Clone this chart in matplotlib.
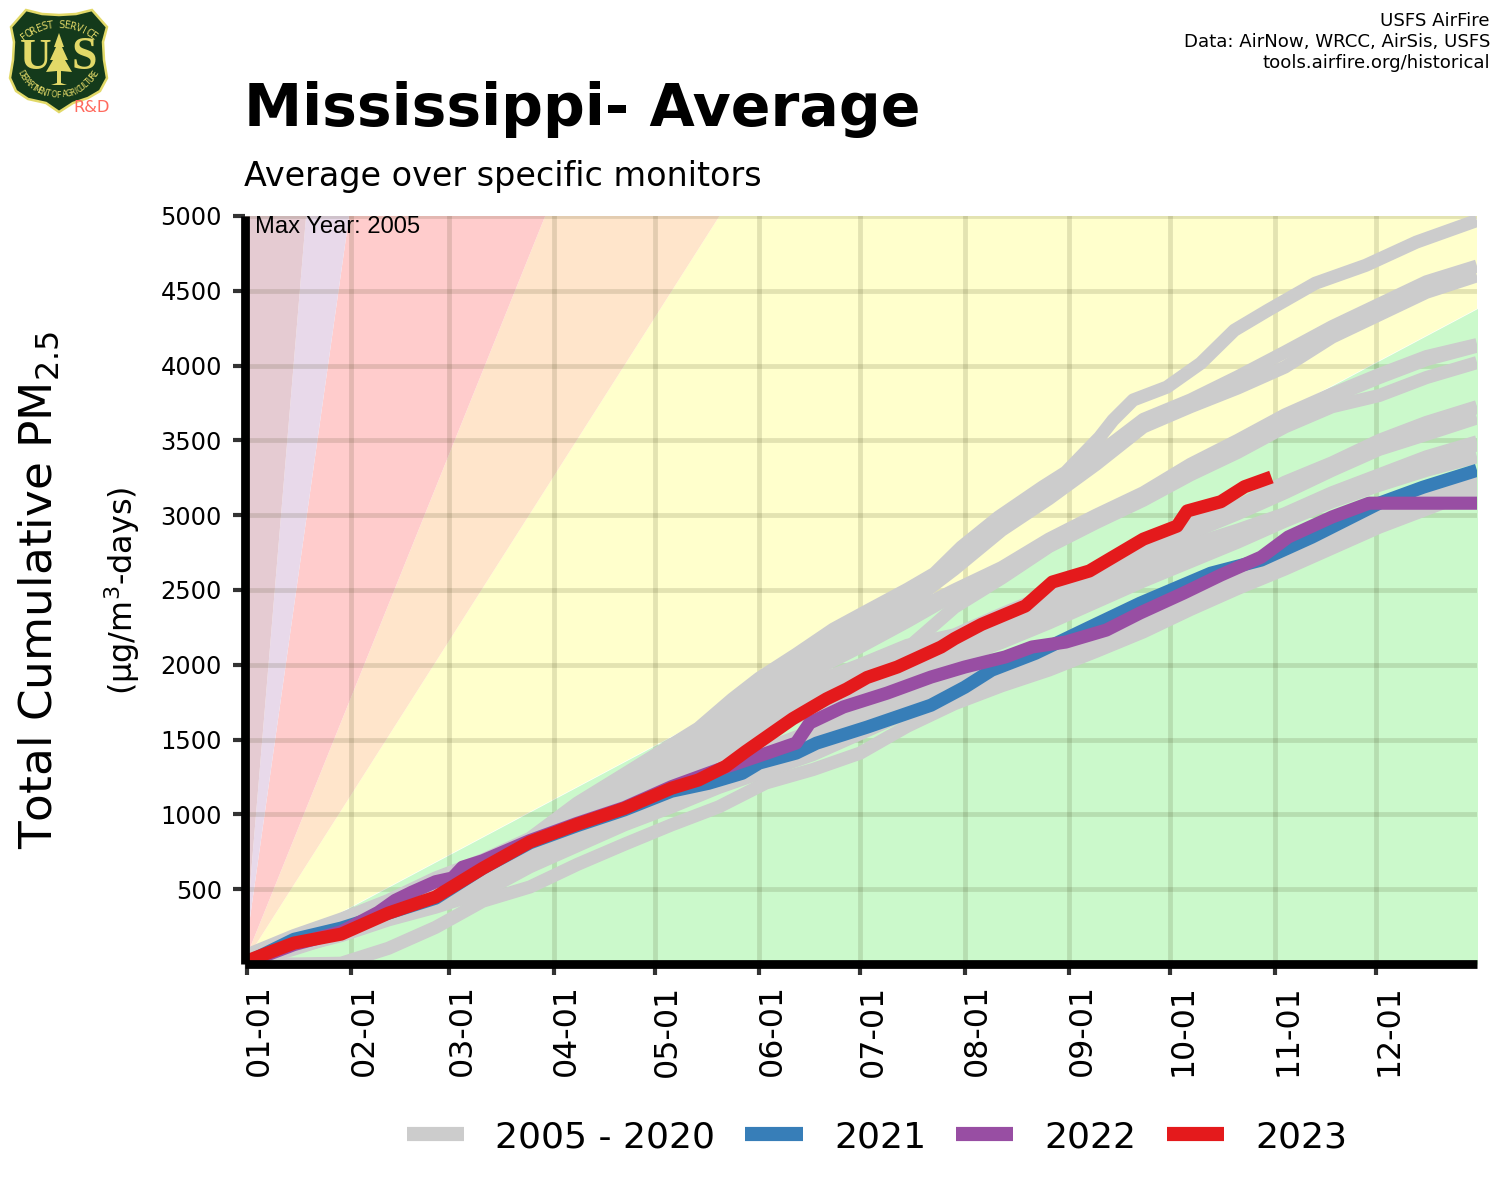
#-*- coding: utf-8 -*-
import numpy as np
import matplotlib
matplotlib.use('Agg')
import matplotlib.pyplot as plt
from matplotlib.patches import Polygon
from matplotlib.transforms import ScaledTranslation

plt.rcParams['font.family'] = ['DejaVu Sans']
plt.rcParams['mathtext.default'] = 'regular'

MONTH_DAYS = [0, 31, 60, 91, 121, 152, 182, 213, 244, 274, 305, 335]
MONTH_LABELS = ['01-01', '02-01', '03-01', '04-01', '05-01', '06-01',
                '07-01', '08-01', '09-01', '10-01', '11-01', '12-01']
Y_TICKS = [500, 1000, 1500, 2000, 2500, 3000, 3500, 4000, 4500, 5000]

# daily rate limits of the coloured wedges
BAND_RATES = [0, 12, 35.5, 56, 160, 270, 100000]
BAND_COLORS = ['#CBF9CB', '#FFFFCC', '#FFE5CB', '#FFCCCC', '#E8D9EA', '#E5CBD2']

# the top grey year has its own days, the others are read every 14 days
TOP_DAYS = [0, 14, 28, 42, 56, 70, 84, 98, 112, 134, 144, 152, 163, 174, 184, 196, 204,
            212, 223, 236, 243, 253, 257, 263, 273, 283, 293, 303, 317, 332, 347, 365]
GREY_A = [60, 190, 300, 425, 575, 695, 840, 1075, 1269, 1576, 1770, 1910, 2070, 2238, 2360, 2505, 2610,
          2787, 2987, 3187, 3287, 3520, 3635, 3770, 3856, 4015, 4236, 4370, 4550, 4670, 4825, 4970]

GREY_DAYS = [0, 14, 28, 42, 56, 70, 84, 98, 112, 126, 140, 154, 168, 182,
             196, 210, 224, 238, 252, 266, 280, 294, 308, 322, 336, 350, 365]
GREY_B = [40, 170, 280, 400, 530, 650, 810, 1020, 1220, 1420, 1620, 1880, 2100, 2290,
          2460, 2700, 2960, 3170, 3400, 3640, 3770, 3925, 4090, 4260, 4410, 4560, 4665]
GREY_C = [30, 150, 260, 380, 500, 620, 780, 980, 1180, 1370, 1570, 1820, 2040, 2230,
          2400, 2640, 2900, 3110, 3340, 3590, 3725, 3850, 3990, 4190, 4340, 4490, 4600]
GREY_D = [20, 140, 240, 350, 470, 590, 740, 920, 1100, 1290, 1480, 1720, 1960, 2120,
          2290, 2470, 2630, 2820, 2980, 3130, 3320, 3480, 3650, 3790, 3920, 4040, 4130]
GREY_E = [15, 130, 230, 340, 450, 570, 710, 890, 1060, 1240, 1430, 1650, 1840, 1960,
          2110, 2385, 2580, 2790, 2950, 3100, 3270, 3420, 3590, 3725, 3800, 3920, 4020]
GREY_F = [15, 120, 220, 320, 430, 540, 680, 860, 1020, 1190, 1370, 1570, 1760, 1860,
          1990, 2130, 2330, 2460, 2590, 2760, 2930, 3050, 3210, 3340, 3490, 3610, 3720]
GREY_G = [12, 125, 225, 335, 445, 560, 700, 870, 1040, 1210, 1400, 1590, 1780, 1930,
          2060, 2190, 2280, 2400, 2530, 2700, 2880, 3010, 3150, 3300, 3440, 3540, 3650]
GREY_H = [10, 130, 230, 345, 460, 600, 760, 930, 1080, 1240, 1420, 1600, 1740, 1850,
          1980, 2090, 2190, 2320, 2460, 2640, 2770, 2870, 2980, 3120, 3240, 3370, 3470]
GREY_I = [10, 125, 220, 335, 450, 590, 740, 900, 1050, 1210, 1390, 1560, 1700, 1810,
          1930, 2030, 2150, 2280, 2420, 2560, 2690, 2820, 2960, 3090, 3200, 3300, 3390]
GREY_J = [10, 100, 200, 320, 430, 560, 700, 840, 980, 1110, 1240, 1350, 1480, 1620,
          1760, 1880, 1950, 2060, 2190, 2340, 2470, 2590, 2730, 2880, 3010, 3110, 3230]
GREY_K = [10, 110, 210, 330, 440, 580, 720, 860, 1010, 1150, 1300, 1440, 1560, 1680,
          1800, 1900, 2010, 2120, 2250, 2380, 2510, 2630, 2760, 2900, 3030, 3130, 3250]
GREY_L = [0, 0, 5, 105, 245, 420, 515, 665, 800, 930, 1050, 1210, 1300, 1410,
          1590, 1740, 1860, 1965, 2090, 2220, 2370, 2510, 2640, 2780, 2920, 3040, 3170]
GREY_M = [5, 110, 190, 295, 380, 480, 650, 790, 930, 1050, 1180, 1290, 1400, 1540,
          1680, 1790, 1900, 2010, 2140, 2280, 2420, 2550, 2680, 2830, 2960, 3070, 3200]
GREY_N = [20, 150, 250, 360, 480, 600, 760, 950, 1130, 1320, 1510, 1700, 1880, 2000,
          2130, 2200, 2340, 2470, 2600, 2770, 2940, 3060, 3220, 3350, 3500, 3620, 3725]
GREY_O = [15, 135, 235, 350, 470, 600, 770, 950, 1120, 1290, 1470, 1650, 1820, 1960,
          2070, 2150, 2240, 2350, 2490, 2660, 2800, 2900, 3010, 3150, 3270, 3390, 3490]
GREY_P = [25, 160, 270, 390, 510, 630, 790, 1000, 1200, 1390, 1590, 1800, 2010, 2180,
          2340, 2500, 2650, 2840, 3000, 3150, 3340, 3500, 3670, 3810, 3940, 4060, 4140]
GREY_YEARS = [GREY_B, GREY_C, GREY_D, GREY_E, GREY_F, GREY_G, GREY_H,
              GREY_I, GREY_J, GREY_K, GREY_L, GREY_M, GREY_N, GREY_O, GREY_P]

BLUE_DAYS = [0, 14, 28, 42, 56, 70, 84, 98, 112, 126, 137, 147, 152, 163, 169, 184,
             203, 213, 221, 234, 250, 265, 286, 301, 316, 336, 349, 365]
BLUE_2021 = [10, 165, 240, 340, 440, 640, 810, 925, 1030, 1155, 1208, 1275, 1343, 1410, 1476, 1583,
             1730, 1850, 1964, 2077, 2250, 2411, 2612, 2700, 2853, 3080, 3187, 3300]
PURPLE_DAYS = [0, 14, 28, 31, 39, 44, 49, 56, 61, 64, 70, 84, 98, 112, 126, 140, 154, 163, 167, 177,
               190, 203, 213, 225, 233, 243, 255, 265, 278, 289, 301, 309, 322, 333, 365]
PURPLE_2022 = [10, 130, 215, 250, 345, 425, 480, 550, 575, 647, 690, 825, 940, 1045, 1185, 1300, 1407, 1477, 1611, 1718,
               1811, 1918, 1985, 2052, 2119, 2152, 2232, 2346, 2480, 2600, 2720, 2854, 2988, 3080, 3080]
RED_DAYS = [0, 14, 28, 42, 56, 70, 84, 98, 112, 126, 134, 142, 148, 162, 172, 178, 184, 193, 206, 210,
            218, 231, 239, 250, 256, 266, 276, 279, 289, 296, 304]
RED_2023 = [20, 140, 200, 340, 448, 640, 816, 934, 1040, 1175, 1230, 1320, 1420, 1640, 1772, 1838, 1915, 1985, 2119, 2175,
            2270, 2393, 2553, 2627, 2707, 2840, 2927, 3028, 3090, 3190, 3255]

GREY = '#CCCCCC'
BLUE = '#377EB8'
PURPLE = '#984EA3'
RED = '#E41A1C'


def draw_logo(fig):
    ax = fig.add_axes([0, 1 - 125 / 1200, 125 / 1500, 125 / 1200])
    ax.set_xlim(0, 125)
    ax.set_ylim(125, 0)
    ax.axis('off')
    shield = [(26, 10), (42, 14), (59, 15), (76, 14), (92, 10), (107, 27), (103, 42), (104, 60),
              (107, 78), (100, 91), (88, 98), (73, 103), (59, 112), (46, 103), (28, 99),
              (16, 91), (10, 78), (13, 60), (14, 42), (11, 27)]
    ax.add_patch(Polygon(shield, closed=True, fc='#143A1B', ec='#E2D968', lw=0.6))
    tree = [(59, 33), (64, 47), (62, 47), (68, 60), (65, 60), (72, 72), (61, 71), (61, 83), (67, 85),
            (51, 85), (57, 83), (57, 71), (46, 72), (53, 60), (50, 60), (56, 47), (54, 47)]
    ax.add_patch(Polygon(tree, closed=True, fc='#E2D968', ec='none'))
    ax.text(36, 58, 'U', fontsize=10.5, fontweight='bold', family='Liberation Serif',
            color='#E2D968', ha='center', va='center')
    ax.text(84, 58, 'S', fontsize=11, fontweight='bold', family='Liberation Serif',
            color='#E2D968', ha='center', va='center')
    for txt, cx, cy, r, a0, a1 in [('FOREST SERVICE', 59, 81, 56, -38, 38),
                                   ('DEPARTMENT OF AGRICULTURE', 58, 52, 43, 240, 120)]:
        angles = np.linspace(a0, a1, len(txt))
        for ch, ang in zip(txt, angles):
            rad = np.deg2rad(ang)
            rot = -ang if a0 < 0 else 180 - ang
            ax.text(cx + r * np.sin(rad), cy - r * np.cos(rad), ch, fontsize=1.9 if a0 > 0 else 2.3,
                    color='#E2D968', rotation=rot, ha='center', va='center')
    ax.text(91.5, 108, 'R&D', fontsize=3.9, color='#FF6A5E', ha='center', va='center')


fig = plt.figure(figsize=(5, 4), dpi=300)
ax = fig.add_axes([244.5 / 1500, 1 - 964 / 1200, (1477 - 244.5) / 1500, (964 - 215.5) / 1200])

# wedges
wedge_x = np.array([-1.0, 366.0])
for i in range(len(BAND_COLORS)):
    ax.fill_between(wedge_x, np.maximum(BAND_RATES[i] * wedge_x, 0), np.maximum(BAND_RATES[i + 1] * wedge_x, 0),
                    color=BAND_COLORS[i], lw=0, zorder=0.1)

ax.set_axisbelow(True)
ax.grid(True, color='#2A2A00', alpha=0.13, lw=1.15)

LINE_W = 3.15
ax.plot(TOP_DAYS, GREY_A, color=GREY, lw=LINE_W, solid_capstyle='butt', zorder=2)
for vals in GREY_YEARS:
    ax.plot(GREY_DAYS, vals, color=GREY, lw=LINE_W, solid_capstyle='butt', zorder=2)
ax.plot(BLUE_DAYS, BLUE_2021, color=BLUE, lw=LINE_W, solid_capstyle='butt', zorder=3)
ax.plot(PURPLE_DAYS, PURPLE_2022, color=PURPLE, lw=LINE_W, solid_capstyle='butt', zorder=4)
ax.plot(RED_DAYS, RED_2023, color=RED, lw=LINE_W, solid_capstyle='butt', zorder=5)

ax.set_xlim(-0.7, 365.0)
ax.set_ylim(0, 5003)
ax.set_xticks(MONTH_DAYS)
ax.set_xticklabels(MONTH_LABELS, rotation=90, fontsize=7.6)
ax.set_yticks(Y_TICKS)
ax.tick_params(axis='y', labelsize=5.8, length=2.8, width=1.0, color='#333333', pad=2.6)
ax.tick_params(axis='x', length=2.7, width=1.0, color='#333333', pad=2.2)

label_shift = ScaledTranslation(13 / 300, 0, fig.dpi_scale_trans)
for lab in ax.get_xticklabels():
    lab.set_transform(lab.get_transform() + label_shift)

for side in ['top', 'right']:
    ax.spines[side].set_visible(False)
for side in ['left', 'bottom']:
    ax.spines[side].set_linewidth(2.1)
    ax.spines[side].set_zorder(6)
    ax.spines[side].set_capstyle('butt')

ax.text(255 / 1500, 1 - 227 / 1200, 'Max Year: 2005', transform=fig.transFigure, fontsize=5.7,
        family='Liberation Sans', va='center', ha='left', zorder=7)

fig.text(244 / 1500, 1 - 126 / 1200, 'Mississippi- Average', fontsize=14.05, fontweight='bold', ha='left', va='baseline')
fig.text(244 / 1500, 1 - 186 / 1200, 'Average over specific monitors', fontsize=8.0, ha='left', va='baseline')
fig.text(1490 / 1500, 1 - 21 / 1200, 'USFS AirFire', fontsize=4.35, ha='right', va='center')
fig.text(1490 / 1500, 1 - 42 / 1200, 'Data: AirNow, WRCC, AirSis, USFS', fontsize=4.35, ha='right', va='center')
fig.text(1490 / 1500, 1 - 63 / 1200, 'tools.airfire.org/historical', fontsize=4.35, ha='right', va='center')

fig.text(39 / 1500, 1 - 590 / 1200, 'Total Cumulative PM$_{2.5}$', fontsize=10.9, rotation=90, ha='center', va='center')
fig.text(122 / 1500, 1 - 591 / 1200, '(µg/m$^3$-days)', fontsize=7.65, rotation=90, ha='center', va='center')

handles = [plt.Line2D([], [], color=c, lw=3.4, solid_capstyle='butt') for c in [GREY, BLUE, PURPLE, RED]]
fig.legend(handles, ['2005 - 2020', '2021', '2022', '2023'], loc='center', ncol=4, frameon=False,
           bbox_to_anchor=(877 / 1500, 1 - 1137 / 1200), fontsize=8.7, handlelength=1.58,
           handletextpad=0.86, columnspacing=0.83)

draw_logo(fig)

fig.savefig('out.png', dpi=300)
